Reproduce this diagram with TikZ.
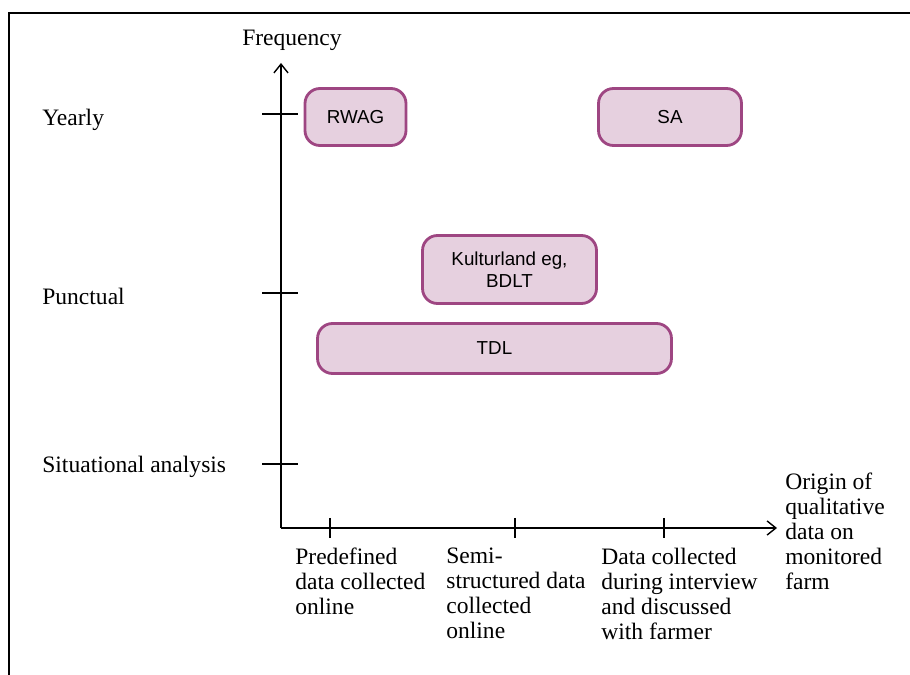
\documentclass[tikz,border=0pt]{standalone}
\usepackage{fontspec}
\setmainfont{Liberation Serif}
\setsansfont{Liberation Sans}
\usepackage{tikz}
\usetikzlibrary{positioning, arrows.meta}
\definecolor{toolfill}{HTML}{E6D0DF}
\definecolor{toolline}{HTML}{9E4682}
\tikzset{
  tool/.style={rectangle, rounded corners=8.5pt, draw=toolline, fill=toolfill, line width=1.6pt, align=center, inner sep=0pt, font=\sffamily\fontsize{10.7}{12.5}\selectfont},
  axis/.style={-{Straight Barb[length=5pt, width=8pt]}, line width=0.8pt},
  tick/.style={line width=0.8pt},
  lbl/.style={inner sep=0pt, align=left, font=\fontsize{13.4}{14.2}\selectfont},
}

\begin{document}
\begin{tikzpicture}[x=0.02cm, y=-0.02cm]
  \useasboundingbox (0,0) rectangle (910,675);

  % Frame
  \draw[line width=1.7pt] (9,675) -- (9,13) -- (910,13);

  % Axes
  \coordinate (origin) at (281,528);
  \coordinate (ytop) at (281,63);
  \coordinate (xend) at (777,528);
  \draw[axis] (origin) -- (ytop);
  \draw[axis] (origin) -- (xend);
  \foreach \y in {114,293,464}
    \draw[tick] (262,\y) -- (298,\y);
  \foreach \x in {330,515,664}
    \draw[tick] (\x,518) -- (\x,538);

  % Axis labels
  \node[lbl] (freq) at (292,40) {Frequency};
  \node[lbl, anchor=west] (yearly) at (42,120) {Yearly};
  \node[lbl, anchor=west] (punctual) at (42,296) {Punctual};
  \node[lbl, anchor=west] (situational) at (42,467) {Situational analysis};
  \node[lbl, anchor=north west] (origintxt) at (785,473) {Origin of\\qualitative\\data on\\monitored\\farm};
  \node[lbl, anchor=north west] (predef) at (295,548) {Predefined\\data collected\\online};
  \node[lbl, anchor=north west] (semi) at (446,548) {Semi-\\structured data\\collected\\online};
  \node[lbl, anchor=north west] (interview) at (601,548) {Data collected\\during interview\\and discussed\\with farmer};

  % Tools
  \node[tool, minimum width=2.02cm, minimum height=1.14cm] (rwag) at (355.5,117) {RWAG};
  \node[tool, minimum width=2.86cm, minimum height=1.14cm] (sa) at (670,117) {SA};
  \node[tool, minimum width=3.48cm, minimum height=1.36cm] (kult) at (509.5,269.5) {Kulturland eg,\\BDLT};
  \node[tool, minimum width=7.08cm, minimum height=1.0cm] (tdl) at (494.5,348.5) {TDL};

\end{tikzpicture}
\end{document}
